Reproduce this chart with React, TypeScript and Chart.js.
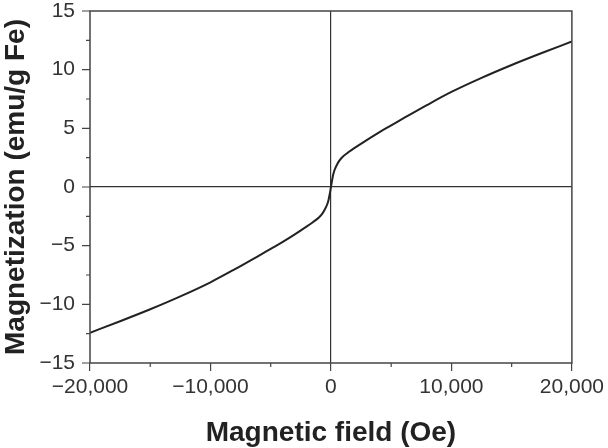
import React, { useEffect, useRef } from "react";
import { Chart, registerables } from "chart.js";

Chart.register(...registerables);

const field = [
  -20000, -17500, -15000, -12500, -10000, -8000, -6000, -5000, -4000, -3000, -2000, -1500, -1000, -700, -500, -300, -200, -100,
  0, 100, 200, 300, 500, 700, 1000, 1500, 2000, 3000, 4000, 5000, 6000, 8000, 10000, 12500, 15000, 17500, 20000,
];
const magnetization = [
  -12.42, -11.44, -10.42, -9.32, -8.12, -7.02, -5.86, -5.27, -4.68, -4.04, -3.36, -3.0, -2.6, -2.25, -1.9, -1.45, -1.1, -0.6,
  0, 0.6, 1.1, 1.45, 1.9, 2.25, 2.6, 3.0, 3.35, 4.02, 4.66, 5.25, 5.84, 7.0, 8.1, 9.3, 10.4, 11.42, 12.4,
];
const xMajorTicks = [-20000, -10000, 0, 10000, 20000];
const yMajorTicks = [-15, -10, -5, 0, 5, 10, 15];

const FONT = "'Liberation Sans', Arial, Helvetica, sans-serif";
const AXIS = "#444";

function fmtX(v: number): string {
  const s = Math.abs(v).toLocaleString("en-US");
  return v < 0 ? "\u2212" + s : s;
}
function fmtY(v: number): string {
  return v < 0 ? "\u2212" + Math.abs(v) : String(v);
}

const framePlugin = {
  id: "frameAndMinor",
  afterDraw(chart: any) {
    const { ctx, chartArea } = chart;
    const xs = chart.scales.x;
    const ys = chart.scales.y;
    ctx.save();
    ctx.strokeStyle = AXIS;
    ctx.lineWidth = 1.5;
    ctx.strokeRect(chartArea.left, chartArea.top, chartArea.right - chartArea.left, chartArea.bottom - chartArea.top);
    ctx.lineWidth = 1.2;
    ctx.beginPath();
    xs.ticks.forEach((t: any) => {
      if (!xMajorTicks.includes(t.value)) {
        const px = xs.getPixelForValue(t.value);
        ctx.moveTo(px, chartArea.bottom);
        ctx.lineTo(px, chartArea.bottom + 4);
      }
    });
    ys.ticks.forEach((t: any) => {
      const py = ys.getPixelForValue(t.value);
      const len = yMajorTicks.includes(t.value) ? 8 : 4;
      ctx.moveTo(chartArea.left, py);
      ctx.lineTo(chartArea.left - len, py);
    });
    ctx.stroke();
    ctx.restore();
  },
};

export default function App() {
  const ref = useRef<HTMLCanvasElement | null>(null);
  useEffect(() => {
    document.body.style.margin = "0";
    const canvas = ref.current;
    if (!canvas) return;
    const chart = new Chart(canvas, {
      type: "scatter",
      data: {
        datasets: [
          {
            data: field.map((h, i) => ({ x: h, y: magnetization[i] })),
            showLine: true,
            borderColor: "#222",
            borderWidth: 2,
            pointRadius: 0,
            cubicInterpolationMode: "monotone",
            fill: false,
          } as any,
        ],
      },
      options: {
        responsive: false,
        animation: false,
        devicePixelRatio: 1,
        layout: { padding: { top: 11, right: 35, left: 0, bottom: 0 } },
        plugins: { legend: { display: false }, tooltip: { enabled: false } },
        scales: {
          x: {
            type: "linear",
            min: -20000,
            max: 20000,
            afterFit: (s: any) => {
              s.height = 85;
            },
            border: { display: false },
            grid: {
              color: (c: any) => (c.tick && c.tick.value === 0 ? "#333" : "transparent"),
              tickColor: (c: any) => (c.tick && xMajorTicks.includes(c.tick.value) ? AXIS : "transparent"),
              lineWidth: 1.2,
              tickWidth: 1.2,
              tickLength: 8,
            },
            ticks: {
              stepSize: 5000,
              autoSkip: false,
              maxRotation: 0,
              padding: 4,
              color: "#333",
              font: { family: FONT, size: 21 },
              callback: (v: any) => (xMajorTicks.includes(Number(v)) ? fmtX(Number(v)) : ""),
            },
            title: {
              display: true,
              text: "Magnetic field (Oe)",
              color: "#222",
              font: { family: FONT, size: 28, weight: "bold", lineHeight: 1 },
              padding: { top: 0, bottom: 1 },
            },
          },
          y: {
            type: "linear",
            min: -15,
            max: 15,
            afterFit: (s: any) => {
              s.width = 90;
            },
            border: { display: false },
            grid: {
              color: (c: any) => (c.tick && c.tick.value === 0 ? "#333" : "transparent"),
              tickColor: "transparent",
              lineWidth: 1.2,
              tickWidth: 1.2,
              tickLength: 15,
            },
            ticks: {
              stepSize: 2.5,
              autoSkip: false,
              padding: 0,
              color: "#333",
              font: { family: FONT, size: 21, lineHeight: 1 },
              callback: (v: any) => (yMajorTicks.includes(Number(v)) ? fmtY(Number(v)) : ""),
            },
            title: {
              display: true,
              text: "Magnetization (emu/g Fe)",
              color: "#222",
              font: { family: FONT, size: 28, weight: "bold", lineHeight: 1 },
              padding: { top: 2, bottom: 0 },
            },
          },
        },
      },
      plugins: [framePlugin],
    });
    return () => chart.destroy();
  }, []);
  return (
    <div style={{ width: 608, height: 448 }}>
      <canvas ref={ref} width={608} height={448} style={{ display: "block" }} />
    </div>
  );
}
